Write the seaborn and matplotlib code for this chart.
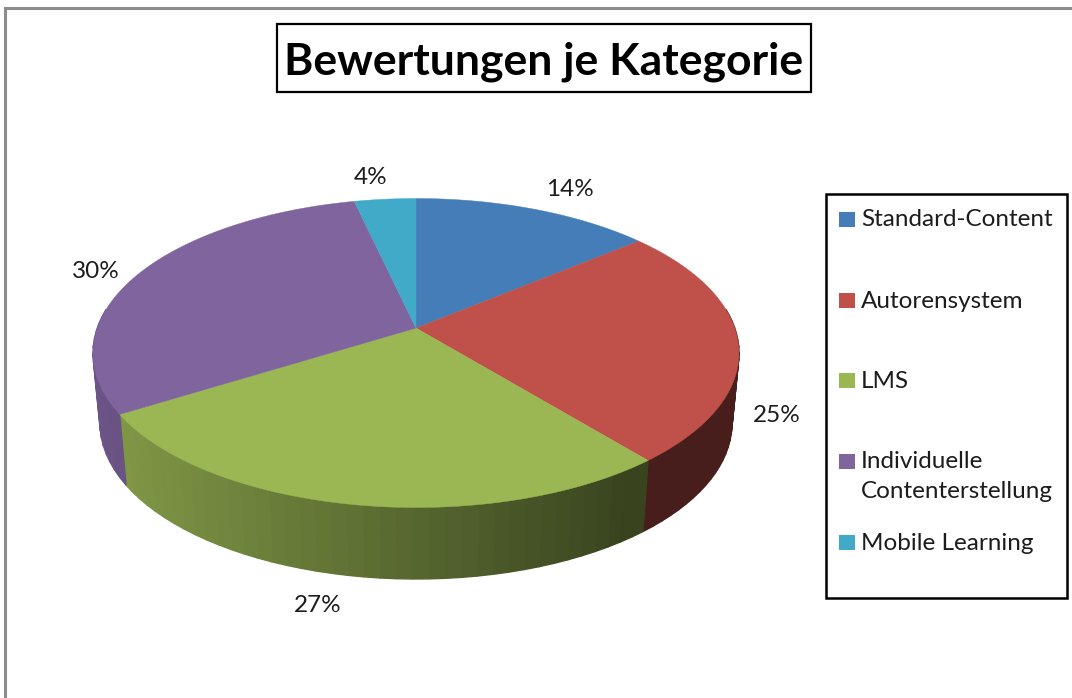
import numpy as np
import matplotlib
matplotlib.use("Agg")
import matplotlib.pyplot as plt
from matplotlib.patches import Rectangle
import seaborn as sns

# ---- data ----
categories = ["Standard-Content", "Autorensystem", "LMS",
              "Individuelle\nContenterstellung", "Mobile Learning"]
shares = [14.0, 25.0, 27.2, 30.2, 3.6]
title = "Bewertungen je Kategorie"

# ---- style ----
sns.set_theme(style="white")
plt.rcParams["font.family"] = ["Lato", "DejaVu Sans"]
palette = sns.color_palette(["#457DB9", "#C0504A", "#9AB754", "#7F649E", "#40AAC8"])

# ---- geometry of the perspective pie, in pixels of the figure ----
CX, TOP_CY, TOP_RX, TOP_RY = 416, 353, 323, 154.5
BOT_CY, BOT_RX, BOT_RY = 423, 316, 156
PERSP = 0.85


def project(frac):
    """Map pie fractions (clockwise from 12 o'clock) to the ellipse parameter."""
    theta = 2 * np.pi * np.asarray(frac, dtype=float)
    return 2 * np.arctan2(PERSP * np.sin(theta / 2), np.cos(theta / 2))


def top_pt(phi):
    return CX + TOP_RX * np.sin(phi), TOP_CY - TOP_RY * np.cos(phi)


def bot_pt(phi):
    return CX + BOT_RX * np.sin(phi), BOT_CY - BOT_RY * np.cos(phi)


def shade(x):
    return float(np.clip(0.82 - (x - 125) / 515 * 0.46, 0.37, 0.9))


fig = plt.figure(figsize=(10.72, 6.98), dpi=100, facecolor="white")
ax = fig.add_axes([0, 0, 1, 1])
ax.set_xlim(0, 1072)
ax.set_ylim(698, 0)
ax.axis("off")

# outer frame: only top and left are in view
ax.plot([5, 5, 1072], [698, 8, 8], color="#8c8c8c", lw=2.2, solid_joinstyle="miter", zorder=1)

edges = np.concatenate([[0], np.cumsum(shares)]) / np.sum(shares)
APEX = (CX, TOP_CY - TOP_RY * np.cos(project(0.25)))

# side wall, in bands that darken to the right
for i, col in enumerate(palette):
    fr = np.linspace(edges[i], edges[i + 1], 40)
    phi = project(fr)
    phi = np.where(phi < 0, phi + 2 * np.pi, phi)
    for a, b in zip(phi[:-1], phi[1:]):
        if np.cos((a + b) / 2) > 0.3:
            continue
        xt0, yt0 = top_pt(a)
        xt1, yt1 = top_pt(b)
        xb0, yb0 = bot_pt(a)
        xb1, yb1 = bot_pt(b)
        f = shade((xt0 + xt1) / 2)
        c = tuple(v * f for v in col)
        ax.fill([xt0, xt1, xb1, xb0], [yt0, yt1, yb1, yb0], color=c, lw=1.0, zorder=2)

# top faces
for i, col in enumerate(palette):
    phi = project(np.linspace(edges[i], edges[i + 1], 120))
    xs, ys = top_pt(phi)
    ax.fill(np.r_[APEX[0], xs], np.r_[APEX[1], ys], color=col, lw=0.3, zorder=3)

# percentage labels
label_xy = [(570, 189), (777, 415), (318, 605), (96, 271), (371, 178)]
for v, (x, y) in zip(shares, label_xy):
    ax.text(x, y, f"{v:.0f}%", ha="center", va="center", fontsize=17.5, color="#1c1c1c", zorder=5)

# title box
ax.add_patch(Rectangle((277, 24), 534, 68, fc="white", ec="black", lw=1.6, zorder=4))
ax.text(544, 61.5, title, ha="center", va="center", fontsize=32, fontweight="bold",
        color="black", zorder=5)

# legend box
ax.add_patch(Rectangle((826, 194), 241, 404, fc="white", ec="black", lw=1.8, zorder=4))
swatch_y = [219, 300, 380, 461, 542]
for name, col, y in zip(categories, palette, swatch_y):
    ax.add_patch(Rectangle((839, y - 7.5), 15.5, 15, fc=col, ec="none", zorder=5))
    ax.text(861, y - 9.5, name, ha="left", va="top", fontsize=17.5, color="#1c1c1c",
            linespacing=1.5, zorder=5)

fig.savefig("out.png", dpi=100)
